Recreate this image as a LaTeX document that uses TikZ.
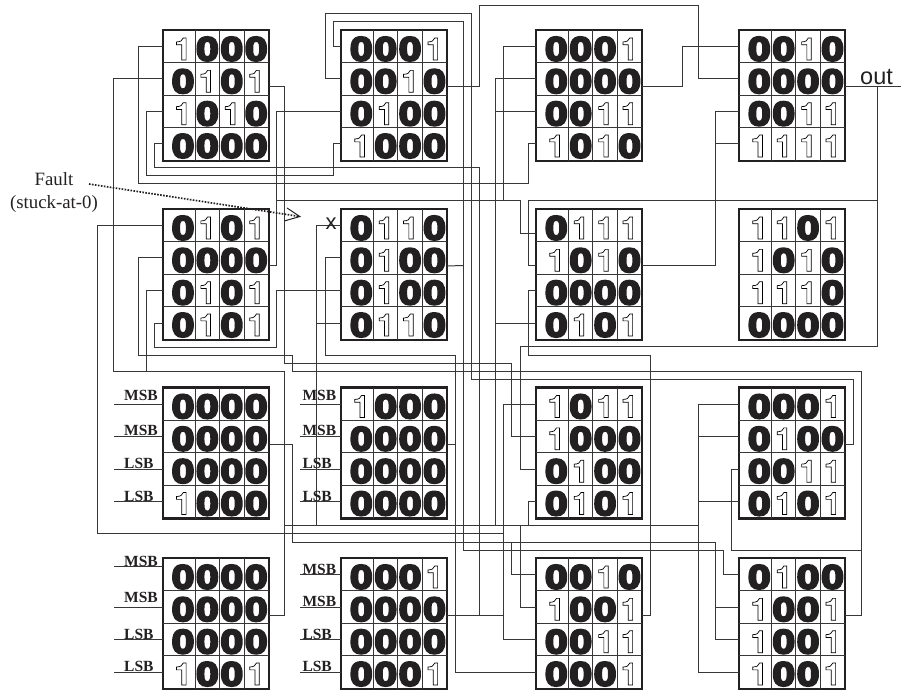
\documentclass[tikz,border=0pt]{standalone}
\usepackage{xcolor}
\usepackage{fontspec}
\setmainfont{Liberation Serif}
\newfontfamily\sansfont{Liberation Sans}
\newfontface\zerofont[FakeBold=7,FakeStretch=1.22]{Liberation Sans Bold}
\newfontface\onefont{TeX Gyre Heros Bold}
\definecolor{wirecol}{RGB}{55, 55, 55}
\definecolor{boxcol}{RGB}{35, 32, 33}
\usetikzlibrary{arrows.meta}

\newcommand{\lutblock}[4]{%
  \node[lutbox] (#1) at (#2,#3) {};
  \foreach \cx in {32.6,56.6,81.3} \draw[celline] (#2+\cx,#3) -- (#2+\cx,#3+131);
  \foreach \cy in {32.7,65.3,97.7} \draw[celline] (#2,#3+\cy) -- (#2+106,#3+\cy);
  \foreach \bitv [count=\n from 0] in {#4} {
    \pgfmathtruncatemacro{\col}{mod(\n,4)}
    \pgfmathtruncatemacro{\row}{floor(\n/4)}
    \node[bit\bitv] (#1d\n) at (#2+20.3+24.4*\col,#3+19+32.35*\row) {\bitv};
  }
  \coordinate (#1i1) at (#2,#3+16.5);
  \coordinate (#1i2) at (#2,#3+49);
  \coordinate (#1i3) at (#2,#3+81.5);
  \coordinate (#1i4) at (#2,#3+114);
  \coordinate (#1o) at (#2+106,#3+57);
}

\begin{document}
\begin{tikzpicture}[x=1pt, y=-1pt,
  wire/.style={draw=wirecol, line width=1pt},
  lutbox/.style={rectangle, draw=boxcol, fill=white, line width=2.3pt, anchor=north west, minimum width=106pt, minimum height=131pt, inner sep=0pt, outer sep=0pt},
  celline/.style={draw=wirecol, line width=0.8pt},
  bit0/.style={inner sep=0pt, text=boxcol, font=\zerofont\fontsize{33.5}{33.5}\selectfont},
  bit1/.style={inner sep=0pt, font=\onefont\fontsize{31}{31}\selectfont,
    execute at begin node={\special{pdf:code 1 Tr 0.7 w}},
    execute at end node={\special{pdf:code 0 Tr}}},
  pinlabel/.style={anchor=base west, inner sep=0pt, text=boxcol, font=\bfseries\fontsize{15.5}{15.5}\selectfont},
  faultarrow/.style={draw=boxcol, line width=1.7pt, dash pattern=on 1.6pt off 1.4pt, -{Straight Barb[length=14pt,width=13pt,line width=1pt]}}
]
  \useasboundingbox (0,0) rectangle (901,692);

  \lutblock{a1}{162.7}{30}{1,0,0,0,0,1,0,1,1,0,1,0,0,0,0,0}
  \lutblock{b1}{341}{30}{0,0,0,1,0,0,1,0,0,1,0,0,1,0,0,0}
  \lutblock{c1}{536}{30}{0,0,0,1,0,0,0,0,0,0,1,1,1,0,1,0}
  \lutblock{d1}{739}{30}{0,0,1,0,0,0,0,0,0,0,1,1,1,1,1,1}
  \lutblock{a2}{162.7}{209}{0,1,0,1,0,0,0,0,0,1,0,1,0,1,0,1}
  \lutblock{b2}{341}{209}{0,1,1,0,0,1,0,0,0,1,0,0,0,1,1,0}
  \lutblock{c2}{536}{209}{0,1,1,1,1,0,1,0,0,0,0,0,0,1,0,1}
  \lutblock{d2}{739}{209}{1,1,0,1,1,0,1,0,1,1,1,0,0,0,0,0}
  \lutblock{a3}{162.7}{387.5}{0,0,0,0,0,0,0,0,0,0,0,0,1,0,0,0}
  \lutblock{b3}{341}{387.5}{1,0,0,0,0,0,0,0,0,0,0,0,0,0,0,0}
  \lutblock{c3}{536}{387.5}{1,0,1,1,1,0,0,0,0,1,0,0,0,1,0,1}
  \lutblock{d3}{739}{387.5}{0,0,0,1,0,1,0,0,0,0,1,1,0,1,0,1}
  \lutblock{a4}{162.7}{558}{0,0,0,0,0,0,0,0,0,0,0,0,1,0,0,1}
  \lutblock{b4}{341}{558}{0,0,0,1,0,0,0,0,0,0,0,0,0,0,0,1}
  \lutblock{c4}{536}{558}{0,0,1,0,1,0,0,1,0,0,1,1,0,0,0,1}
  \lutblock{d4}{739}{558}{0,1,0,0,1,0,0,1,1,0,0,1,1,0,0,1}

  \coordinate (c2i1) at (536,233.3);
  \coordinate (c2i2) at (536,265.7);
  \coordinate (a4i1) at (162.7,566);

  % first row
  \draw[wire] (a1i1) -| (138,184) -- (528.3,184) |- (c1i4);
  \draw[wire] (a1i3) -| (146.3,176) -- (333.3,176) |- (b1i4);
  \draw[wire] (a1i4) -| (154.7,168) -- (479.3,168) -- (479.3,615);
  \draw[wire] (a1o) -| (284.7,363.3) -- (511.7,363.3) |- (c3i2);
  \draw[wire] (b1i1) -| (333.3,22) -- (463.3,22) -- (463.3,550) -- (723.3,550) |- (d4i1);
  \draw[wire] (b2o) -- (463.3,265.5);
  \draw[wire] (d3o) -| (853.3,379.3) -- (471.3,379.3) -- (471.3,13.7) -- (325,13.7) |- (b1i2);
  \draw[wire] (b1o) -| (479.3,5.7) -- (698.7,5.7) |- (d1i2);
  \draw[wire] (c1o) -| (682.3,46.5) -- (d1i1);

  % output
  \coordinate (outend) at (901,87);
  \draw[wire] (d1o) -- (outend);
  \draw[wire] (877.3,87) -- (877.3,346.7) -- (520,346.7) |- (c3i3);
  \draw[wire] (877.3,200.7) -- (528.3,200.7) |- (c2i2);
  \draw[wire] (c4o) -| (650.3,355) -- (528.3,355) |- (c2i3);
  \draw[wire] (c2o) -| (715,111.5) -- (d1i3);
  \draw[wire] (d1i4) -| (715,200);

  % second row
  \draw[wire] (a2o) -| (276.7,111.5) -- (b1i3);
  \draw[wire] (276.7,200.7) -- (520,200.7) |- (c2i1);
  \draw[wire] (c1i1) -| (503.7,200.7);
  \draw[wire] (a2i1) -| (97.7,533.7) -- (503.7,533.7);
  \draw[wire] (c3i1) -| (503.7,615);
  \draw[wire] (b4o) -- (503.7,615) |- (c4i3);
  \draw[wire] (d4o) -| (861.3,371.3) -- (292.7,371.3) -- (292.7,355) -- (138,355) |- (a2i2);
  \draw[wire] (d3i3) -| (731.7,550) -- (861.3,550);
  \draw[wire] (a2i4) -| (154.7,347) -- (276.7,347) |- (b2i3);

  % long bus from the lower left block
  \draw[wire] (a4o) -| (284.7,371.3) -- (113.7,371.3) |- (a1i2);
  \draw[wire] (284.7,525.7) -- (698.7,525.7);
  \draw[wire] (a2i3) -| (146.3,371.3);
  \draw[wire] (b2i1) -| (316.7,525.7);
  \draw[wire] (b2i4) -| (316.7,525.7);
  \draw[wire] (c1i2) -| (495.7,525.7);
  \draw[wire] (c1i3) -| (495.7,525.7);
  \draw[wire] (c2i4) -| (495.7,525.7);
  \draw[wire] (c4i2) -| (520,525.7);
  \draw[wire] (c3i4) -| (528.3,525.7);
  \draw[wire] (d3i1) -| (698.7,525.7);
  \draw[wire] (d3i2) -| (698.7,525.7);
  \draw[wire] (d3i4) -| (698.7,525.7);
  \draw[wire] (d4i4) -| (698.7,525.7);

  % third row outputs
  \draw[wire] (a3o) -| (292.7,542) -- (715,542) |- (d4i3);
  \draw[wire] (d4i2) -| (715,542);
  \draw[wire] (c4i1) -| (511.7,542);
  \draw[wire] (c4i4) -| (455,355) -- (325,355) |- (b2i2);
  \draw[wire] (b3o) -- (455,444.5);

  % primary inputs
  \foreach \blk/\len in {a3/49,a4/49,b3/40.7,b4/40.7} {
    \foreach \p in {1,2,3,4} \draw[wire] (\blk i\p) -- ++(-\len,0);
  }
  \node[pinlabel] (a3m1) at (124,400) {MSB};
  \node[pinlabel] (a3m2) at (124,435.7) {MSB};
  \node[pinlabel] (a3l1) at (124,468.3) {LSB};
  \node[pinlabel] (a3l2) at (124,501) {LSB};
  \node[pinlabel] (a4m1) at (124,566) {MSB};
  \node[pinlabel] (a4m2) at (124,602.7) {MSB};
  \node[pinlabel] (a4l1) at (124,639) {LSB};
  \node[pinlabel] (a4l2) at (124,671.7) {LSB};
  \node[pinlabel] (b3m1) at (302.3,400) {MSB};
  \node[pinlabel] (b3m2) at (302.3,435.7) {MSB};
  \node[pinlabel] (b3l1) at (302.3,468.3) {LSB};
  \node[pinlabel] (b3l2) at (302.3,501) {LSB};
  \node[pinlabel] (b4m1) at (302.3,574) {MSB};
  \node[pinlabel] (b4m2) at (302.3,606.7) {MSB};
  \node[pinlabel] (b4l1) at (302.3,639) {LSB};
  \node[pinlabel] (b4l2) at (302.3,671.7) {LSB};

  \node[anchor=base west, inner sep=0pt, text=boxcol, font=\sansfont\fontsize{23.5}{23.5}\selectfont] (outlbl) at (860,85) {out};
  \node[inner sep=0pt, text=boxcol, font=\sansfont\fontsize{22}{22}\selectfont] (xmark) at (331,224) {x};

  \node[inner sep=0pt, align=center, text=boxcol, font=\fontsize{18.8}{23}\selectfont] (faultlbl) at (54,192) {Fault\\(stuck-at-0)};
  \coordinate (faultstart) at (89,184);
  \coordinate (faultend) at (301,216.7);
  \draw[faultarrow] (faultstart) -- (faultend);
\end{tikzpicture}
\end{document}
